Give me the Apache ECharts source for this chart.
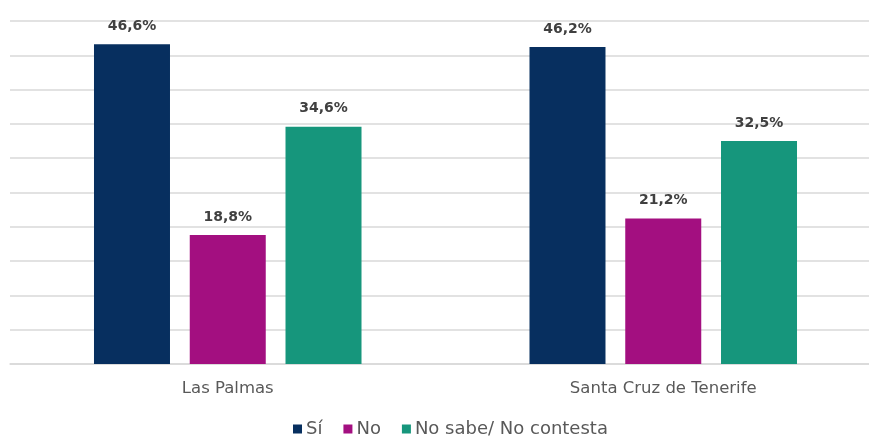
<!DOCTYPE html>
<html><head><meta charset="utf-8">
<script src="https://cdn.jsdelivr.net/npm/echarts@6/dist/echarts.min.js"></script>
<style>html,body{margin:0;padding:0;background:#fff}#c{width:869px;height:437px}</style>
</head><body><div id="c"></div>
<script>
const categories = ['Las Palmas', 'Santa Cruz de Tenerife'];
const seriesNames = ['Sí', 'No', 'No sabe/ No contesta'];
const si = [46.6, 46.2];
const no = [18.8, 21.2];
const nsnc = [34.6, 32.5];
const colors = ['#072f5f', '#a30f80', '#16967c'];
const chart = echarts.init(document.getElementById('c'));
const fontFam = '"DejaVu Sans", sans-serif';
const mk = (name, data, color) => ({
  name, type: 'bar', data, barWidth: 76, barGap: '26%',
  itemStyle: { color },
  label: { show: true, position: 'top', distance: 11, color: '#404040', fontWeight: 'bold', fontSize: 14, fontFamily: fontFam,
    formatter: p => p.value.toFixed(1).replace('.', ',') + '%' }
});
chart.setOption({
  animation: false,
  grid: { left: 10, width: 871, top: 21, bottom: 73, containLabel: false, outerBoundsMode: 'none' },
  legend: { top: 415, left: 288, itemWidth: 9, itemHeight: 9, itemGap: 21, icon: 'rect',
    textStyle: { color: '#595959', fontSize: 18, fontFamily: fontFam, padding: [0, 0, 0, -1] } },
  xAxis: { type: 'category', data: categories, axisLine: { lineStyle: { color: '#d9d9d9', width: 1.5 } }, axisTick: { show: false },
    axisLabel: { color: '#595959', fontSize: 16.5, fontFamily: fontFam, margin: 16 } },
  yAxis: { type: 'value', min: 0, max: 50, interval: 5, axisLabel: { show: false }, axisLine: { show: false }, axisTick: { show: false },
    splitLine: { lineStyle: { color: '#d9d9d9', width: 1.5 } } },
  series: [mk(seriesNames[0], si, colors[0]), mk(seriesNames[1], no, colors[1]), mk(seriesNames[2], nsnc, colors[2])]
});
</script></body></html>
